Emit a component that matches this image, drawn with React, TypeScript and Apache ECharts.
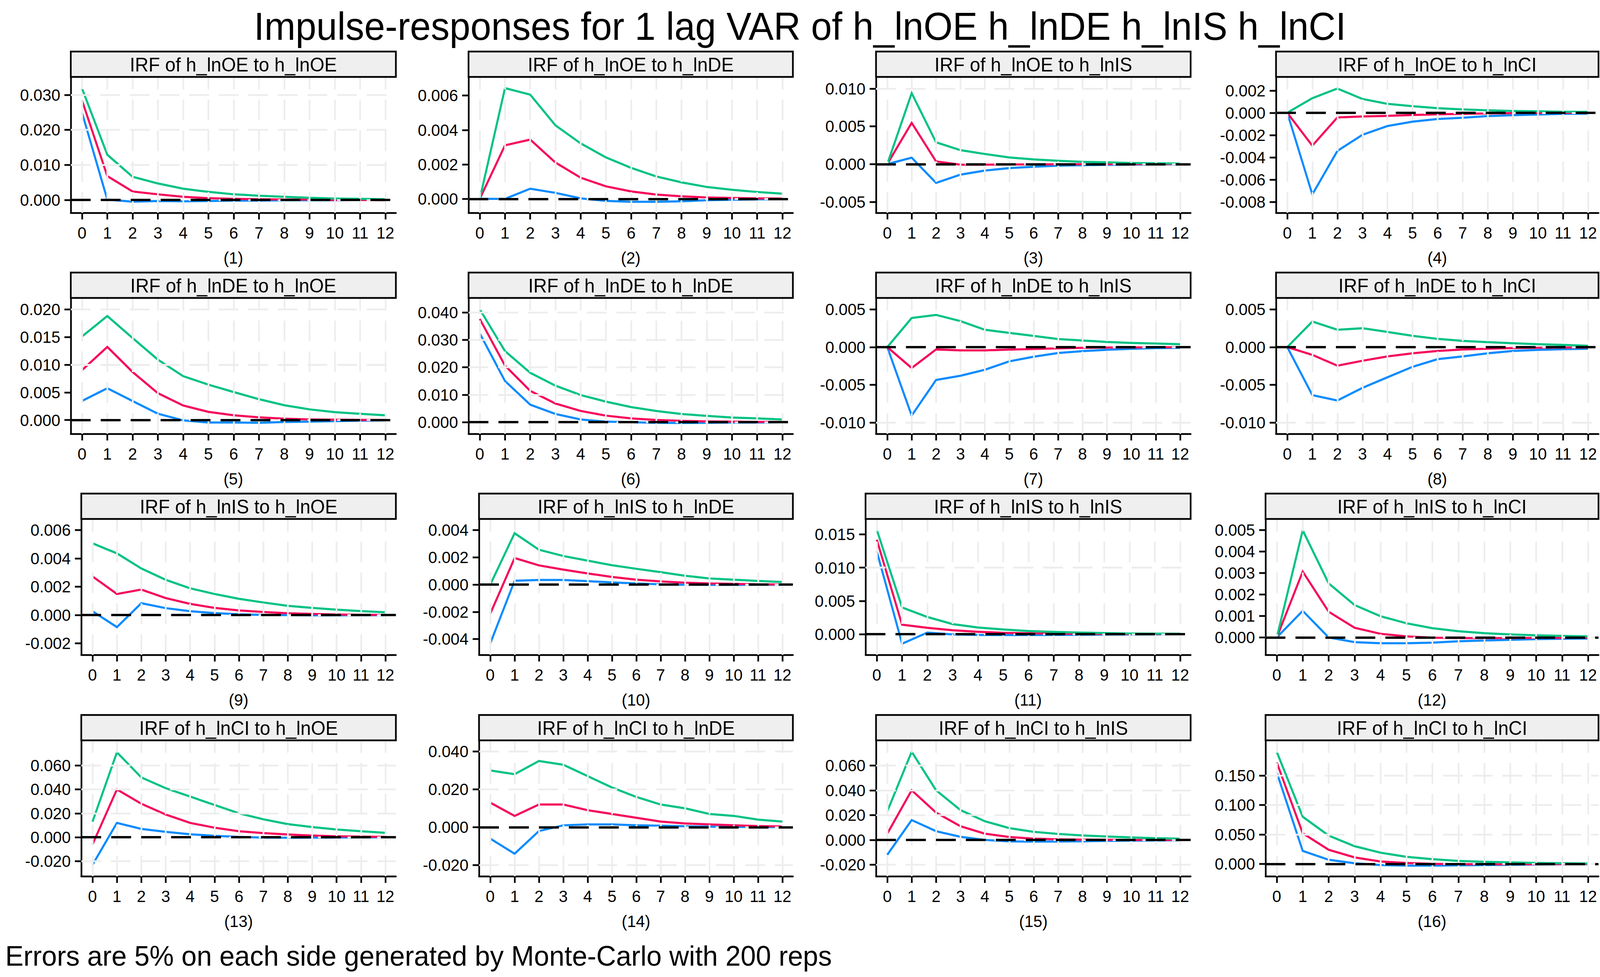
import React, { useEffect, useRef, useState } from "react";
import * as echarts from "echarts";

// ---------- data ----------
const steps = [0, 1, 2, 3, 4, 5, 6, 7, 8, 9, 10, 11, 12];

const mainTitle = "Impulse-responses for 1 lag VAR of h_lnOE h_lnDE h_lnIS h_lnCI";
const footNote = "Errors are 5% on each side generated by Monte-Carlo with 200 reps";

const panelTitles = [
  "IRF of h_lnOE to h_lnOE", "IRF of h_lnOE to h_lnDE", "IRF of h_lnOE to h_lnIS", "IRF of h_lnOE to h_lnCI",
  "IRF of h_lnDE to h_lnOE", "IRF of h_lnDE to h_lnDE", "IRF of h_lnDE to h_lnIS", "IRF of h_lnDE to h_lnCI",
  "IRF of h_lnIS to h_lnOE", "IRF of h_lnIS to h_lnDE", "IRF of h_lnIS to h_lnIS", "IRF of h_lnIS to h_lnCI",
  "IRF of h_lnCI to h_lnOE", "IRF of h_lnCI to h_lnDE", "IRF of h_lnCI to h_lnIS", "IRF of h_lnCI to h_lnCI",
];

// (1) OE -> OE
const p1Upper = [0.0318, 0.0129, 0.0066, 0.0047, 0.0032, 0.0023, 0.0016, 0.0012, 0.0009, 0.0006, 0.0004, 0.0003, 0.0002];
const p1Irf = [0.0284, 0.0068, 0.0024, 0.0016, 0.0009, 0.0005, 0.0003, 0.0002, 0.0001, 0.0001, 0.0, 0.0, -0.0001];
const p1Lower = [0.0249, 0.0001, -0.0005, -0.0003, -0.0004, -0.0003, -0.0002, -0.0002, -0.0001, -0.0001, -0.0001, 0.0, 0.0];
const p1Ticks = [0, 0.01, 0.02, 0.03];
const p1Range = [-0.00368, 0.0351];

// (2) OE -> DE
const p2Upper = [0, 0.00643, 0.00605, 0.00427, 0.00322, 0.00241, 0.0018, 0.0013, 0.00096, 0.00069, 0.00053, 0.0004, 0.0003];
const p2Irf = [0, 0.00311, 0.00344, 0.00211, 0.00123, 0.00073, 0.00043, 0.00025, 0.00015, 0.00008, 0.00005, 0.00003, 0.00002];
const p2Lower = [0, 0, 0.00059, 0.00035, 0.00003, -0.00012, -0.00017, -0.00017, -0.00014, -0.00008, -0.00005, -0.00003, -0.00002];
const p2Ticks = [0, 0.002, 0.004, 0.006];
const p2Range = [-0.00081, 0.00708];

// (3) OE -> IS
const p3Upper = [0, 0.0094, 0.00289, 0.00185, 0.00134, 0.00088, 0.00062, 0.00044, 0.0003, 0.00023, 0.00014, 0.0001, 0.00007];
const p3Irf = [0, 0.00547, 0.00035, -0.00007, -0.00007, -0.00005, -0.00004, -0.00002, -0.00001, 0, 0, 0, 0];
const p3Lower = [0, 0.00085, -0.00249, -0.00139, -0.00085, -0.00053, -0.00035, -0.00021, -0.00014, -0.00009, -0.00006, -0.00004, -0.00002];
const p3Ticks = [-0.005, 0, 0.005, 0.01];
const p3Range = [-0.00645, 0.01155];

// (4) OE -> CI
const p4Upper = [0, 0.00131, 0.00218, 0.00124, 0.0008, 0.00059, 0.00041, 0.0003, 0.00022, 0.00016, 0.00013, 0.00009, 0.00008];
const p4Irf = [0, -0.00296, -0.00042, -0.00033, -0.00028, -0.0002, -0.00014, -0.0001, -0.00006, -0.00003, -0.00002, -0.00001, 0];
const p4Lower = [0, -0.00734, -0.00343, -0.00198, -0.00119, -0.0008, -0.00056, -0.00045, -0.0003, -0.00022, -0.00016, -0.0001, -0.00008];
const p4Ticks = [-0.008, -0.006, -0.004, -0.002, 0, 0.002];
const p4Range = [-0.00899, 0.00322];

// (5) DE -> OE
const p5Upper = [0.01511, 0.0188, 0.01483, 0.01092, 0.00793, 0.0064, 0.00506, 0.00377, 0.00268, 0.00193, 0.00142, 0.00112, 0.00087];
const p5Irf = [0.00902, 0.01321, 0.00869, 0.00486, 0.00263, 0.00148, 0.00087, 0.0005, 0.00025, 0.00011, 0.00006, 0.00003, 0.00002];
const p5Lower = [0.00346, 0.00575, 0.00344, 0.00115, -0.00006, -0.00045, -0.00045, -0.0005, -0.00036, -0.00028, -0.0002, -0.00011, -0.00006];
const p5Ticks = [0, 0.005, 0.01, 0.015, 0.02];
const p5Range = [-0.00249, 0.02207];

// (6) DE -> DE
const p6Upper = [0.0411, 0.0259, 0.018, 0.0133, 0.0099, 0.0075, 0.0055, 0.0041, 0.003, 0.0023, 0.0017, 0.0014, 0.001];
const p6Irf = [0.0376, 0.0206, 0.0114, 0.0068, 0.0041, 0.0024, 0.0014, 0.0008, 0.0005, 0.0003, 0.0002, 0.0001, 0.0001];
const p6Lower = [0.0323, 0.015, 0.0064, 0.003, 0.001, 0.0002, 0, -0.0002, -0.0003, -0.0002, -0.0001, -0.0001, 0];
const p6Ticks = [0, 0.01, 0.02, 0.03, 0.04];
const p6Range = [-0.00423, 0.04524];

// (7) DE -> IS
const p7Upper = [0, 0.00386, 0.00427, 0.00345, 0.0023, 0.00189, 0.00148, 0.00107, 0.00088, 0.00068, 0.00055, 0.00047, 0.00039];
const p7Irf = [0, -0.00277, -0.00031, -0.00043, -0.00043, -0.00033, -0.00025, -0.00016, -0.0001, -0.00006, -0.00004, -0.00002, -0.00002];
const p7Lower = [0, -0.00908, -0.00435, -0.0038, -0.003, -0.00189, -0.00127, -0.00078, -0.00053, -0.00035, -0.00023, -0.00014, -0.0001];
const p7Ticks = [-0.01, -0.005, 0, 0.005];
const p7Range = [-0.0115, 0.00652];

// (8) DE -> CI
const p8Upper = [0, 0.00339, 0.0023, 0.0025, 0.00201, 0.0015, 0.00109, 0.00082, 0.00066, 0.00051, 0.00039, 0.00029, 0.00018];
const p8Irf = [0, -0.00103, -0.00246, -0.00181, -0.00123, -0.00082, -0.00051, -0.00031, -0.00021, -0.00012, -0.00008, -0.00006, -0.00006];
const p8Lower = [0, -0.00637, -0.00708, -0.0054, -0.004, -0.00261, -0.0016, -0.00123, -0.00082, -0.00051, -0.00037, -0.00027, -0.00021];
const p8Ticks = [-0.01, -0.005, 0, 0.005];
const p8Range = [-0.0115, 0.00652];

// (9) IS -> OE
const p9Upper = [0.00507, 0.00436, 0.00329, 0.00249, 0.00189, 0.00149, 0.00115, 0.00089, 0.00065, 0.00051, 0.00038, 0.00028, 0.0002];
const p9Irf = [0.00273, 0.00149, 0.0018, 0.0012, 0.00079, 0.00051, 0.00033, 0.00022, 0.00013, 0.00008, 0.00004, 0.00002, 0.00001];
const p9Lower = [0.00027, -0.00085, 0.00084, 0.00049, 0.00027, 0.00014, 0.00005, 0.00001, 0, -0.00002, -0.00002, -0.00001, -0.00001];
const p9Ticks = [-0.002, 0, 0.002, 0.004, 0.006];
const p9Range = [-0.00281, 0.00679];

// (10) IS -> DE
const p10Upper = [0, 0.00377, 0.00256, 0.0021, 0.00176, 0.00142, 0.00116, 0.00091, 0.00065, 0.00045, 0.00036, 0.00027, 0.00019];
const p10Irf = [-0.00214, 0.00195, 0.00141, 0.0011, 0.00082, 0.00056, 0.00036, 0.00023, 0.00014, 0.00008, 0.00005, 0.00002, 0.00001];
const p10Lower = [-0.00432, 0.00028, 0.00034, 0.00034, 0.00025, 0.00016, 0.00008, 0.00002, -0.00001, -0.00002, -0.00002, -0.00001, -0.00001];
const p10Ticks = [-0.004, -0.002, 0, 0.002, 0.004];
const p10Range = [-0.00516, 0.00482];

// (11) IS -> IS
const p11Upper = [0.0157, 0.00402, 0.00258, 0.00151, 0.001, 0.0007, 0.00047, 0.00033, 0.00023, 0.00016, 0.00009, 0.00007, 0.00005];
const p11Irf = [0.01421, 0.00142, 0.00095, 0.00058, 0.00035, 0.00019, 0.00012, 0.00007, 0.00005, 0.00003, 0.00002, 0.00001, 0.00001];
const p11Lower = [0.01247, -0.00144, 0.00023, -0.00005, -0.00012, -0.00014, -0.00014, -0.00012, -0.00009, -0.00007, -0.00005, -0.00003, -0.00002];
const p11Ticks = [0, 0.005, 0.01, 0.015];
const p11Range = [-0.00312, 0.01733];

// (12) IS -> CI
const p12Upper = [0, 0.00499, 0.00252, 0.00151, 0.00099, 0.00066, 0.00043, 0.00029, 0.0002, 0.00014, 0.0001, 0.00007, 0.00005];
const p12Irf = [0, 0.00307, 0.0012, 0.00045, 0.00017, 0.00005, -0.00001, -0.00003, -0.00003, -0.00003, -0.00002, -0.00002, -0.00001];
const p12Lower = [0, 0.00124, 0, -0.00022, -0.00027, -0.00027, -0.00024, -0.00018, -0.00014, -0.00011, -0.00008, -0.00006, -0.00005];
const p12Ticks = [0, 0.001, 0.002, 0.003, 0.004, 0.005];
const p12Range = [-0.00081, 0.00552];

// (13) CI -> OE
const p13Upper = [0.013, 0.071, 0.05, 0.041, 0.034, 0.027, 0.02, 0.015, 0.011, 0.0085, 0.0065, 0.005, 0.0037];
const p13Irf = [-0.006, 0.04, 0.028, 0.019, 0.012, 0.008, 0.005, 0.0035, 0.0023, 0.0014, 0.0008, 0.0005, 0.0003];
const p13Lower = [-0.023, 0.012, 0.007, 0.0045, 0.0025, 0.0012, 0.0003, -0.0003, -0.0004, -0.0003, -0.0002, -0.0001, 0];
const p13Ticks = [-0.02, 0, 0.02, 0.04, 0.06];
const p13Range = [-0.0326, 0.081];

// (14) CI -> DE
const p14Upper = [0.03, 0.028, 0.035, 0.033, 0.027, 0.021, 0.016, 0.012, 0.01, 0.007, 0.006, 0.004, 0.003];
const p14Irf = [0.013, 0.006, 0.012, 0.012, 0.009, 0.007, 0.005, 0.003, 0.002, 0.0015, 0.001, 0.0006, 0.0004];
const p14Lower = [-0.006, -0.014, -0.002, 0.001, 0.0015, 0.0015, 0.001, 0.0008, 0.0005, 0.0003, 0.0002, 0.0001, 0.0001];
const p14Ticks = [-0.02, 0, 0.02, 0.04];
const p14Range = [-0.0259, 0.0459];

// (15) CI -> IS
const p15Upper = [0.023, 0.071, 0.04, 0.024, 0.015, 0.0095, 0.0065, 0.0048, 0.0036, 0.0027, 0.002, 0.0014, 0.001];
const p15Irf = [0.005, 0.04, 0.022, 0.011, 0.005, 0.0023, 0.001, 0.0004, 0.0002, 0.0001, 0, 0, 0];
const p15Lower = [-0.012, 0.016, 0.007, 0.0025, 0, -0.0012, -0.0014, -0.0013, -0.0011, -0.0008, -0.0006, -0.0004, -0.0003];
const p15Ticks = [-0.02, 0, 0.02, 0.04, 0.06];
const p15Range = [-0.0293, 0.0802];

// (16) CI -> CI
const p16Upper = [0.19, 0.08, 0.048, 0.03, 0.019, 0.012, 0.008, 0.005, 0.0035, 0.0025, 0.0015, 0.001, 0.0007];
const p16Irf = [0.172, 0.052, 0.024, 0.011, 0.004, 0.0015, 0, -0.0005, -0.0007, -0.0006, -0.0005, -0.0003, -0.0002];
const p16Lower = [0.155, 0.022, 0.007, 0.001, -0.002, -0.003, -0.003, -0.0025, -0.002, -0.0015, -0.001, -0.0007, -0.0005];
const p16Ticks = [0, 0.05, 0.1, 0.15];
const p16Range = [-0.021, 0.2096];

const uppers = [p1Upper, p2Upper, p3Upper, p4Upper, p5Upper, p6Upper, p7Upper, p8Upper, p9Upper, p10Upper, p11Upper, p12Upper, p13Upper, p14Upper, p15Upper, p16Upper];
const irfs = [p1Irf, p2Irf, p3Irf, p4Irf, p5Irf, p6Irf, p7Irf, p8Irf, p9Irf, p10Irf, p11Irf, p12Irf, p13Irf, p14Irf, p15Irf, p16Irf];
const lowers = [p1Lower, p2Lower, p3Lower, p4Lower, p5Lower, p6Lower, p7Lower, p8Lower, p9Lower, p10Lower, p11Lower, p12Lower, p13Lower, p14Lower, p15Lower, p16Lower];
const yTicks = [p1Ticks, p2Ticks, p3Ticks, p4Ticks, p5Ticks, p6Ticks, p7Ticks, p8Ticks, p9Ticks, p10Ticks, p11Ticks, p12Ticks, p13Ticks, p14Ticks, p15Ticks, p16Ticks];
const yRanges = [p1Range, p2Range, p3Range, p4Range, p5Range, p6Range, p7Range, p8Range, p9Range, p10Range, p11Range, p12Range, p13Range, p14Range, p15Range, p16Range];

// ---------- layout & style ----------
const W = 4272;
const H = 2502;
const FONT = "'Liberation Sans', Arial, Helvetica, sans-serif";
const rowTops = [132, 698, 1264, 1831];
const plotLefts = [189, 1251, 2339, 3407, 189, 1251, 2339, 3407, 217, 1279, 2311, 3379, 217, 1279, 2339, 3379];
const colRights = [1057, 2117, 3179, 4268];
const HEADER_H = 65;
const PLOT_BOTTOM = 413;
const PAREN_Y = 528;
const PAD_LEFT = 30;
const PAD_RIGHT = 28;
const COLOR_UPPER = "#00C284";
const COLOR_IRF = "#F5095B";
const COLOR_LOWER = "#0B8BFF";
const GRID_COLOR = "#EDEDED";

function fmt(v: number): string {
  const s = v.toFixed(3);
  return s === "-0.000" ? "0.000" : s;
}

function buildOption() {
  const grids: any[] = [];
  const xAxes: any[] = [];
  const yAxes: any[] = [];
  const series: any[] = [];
  const graphics: any[] = [];

  graphics.push({
    type: "text",
    x: W / 2,
    y: 67,
    style: { text: mainTitle, fontSize: 100, fontFamily: FONT, fill: "#000", textAlign: "center", textVerticalAlign: "middle" },
  });
  graphics.push({
    type: "text",
    x: 14,
    y: 2447,
    style: { text: footNote, fontSize: 73, fontFamily: FONT, fill: "#000", textAlign: "left", textVerticalAlign: "middle" },
  });

  for (let i = 0; i < 16; i++) {
    const row = Math.floor(i / 4);
    const col = i % 4;
    const top = rowTops[row];
    const left = plotLefts[i];
    const right = colRights[col];
    const plotTop = top + HEADER_H;
    const plotBottom = top + PLOT_BOTTOM;
    const width = right - left;
    const unit = (width - PAD_LEFT - PAD_RIGHT) / 12;

    grids.push({ left, top: plotTop, width, height: plotBottom - plotTop, containLabel: false });

    xAxes.push({
      type: "value",
      gridIndex: i,
      min: -PAD_LEFT / unit,
      max: 12 + PAD_RIGHT / unit,
      axisLine: { show: true, onZero: false, lineStyle: { color: "#000", width: 4.5 } },
      axisTick: { show: true, customValues: steps, length: 17, lineStyle: { color: "#000", width: 4.5 } },
      axisLabel: {
        show: true,
        customValues: steps,
        fontSize: 43,
        fontFamily: FONT,
        color: "#000",
        margin: 30,
        formatter: (v: number) => String(Math.round(v)),
      },
      splitLine: { show: false },
    });

    yAxes.push({
      type: "value",
      gridIndex: i,
      min: yRanges[i][0],
      max: yRanges[i][1],
      axisLine: { show: true, onZero: false, lineStyle: { color: "#000", width: 4.5 } },
      axisTick: { show: true, customValues: yTicks[i], length: 17, lineStyle: { color: "#000", width: 4.5 } },
      axisLabel: {
        show: true,
        customValues: yTicks[i],
        fontSize: 43,
        fontFamily: FONT,
        color: "#000",
        margin: 28,
        formatter: (v: number) => fmt(v),
      },
      splitLine: { show: false },
    });

    // grid lines (at tick positions)
    series.push({
      type: "line",
      xAxisIndex: i,
      yAxisIndex: i,
      data: [],
      silent: true,
      z: 1,
      markLine: {
        silent: true,
        symbol: ["none", "none"],
        label: { show: false },
        emphasis: { disabled: true },
        lineStyle: { color: GRID_COLOR, width: 4.5, type: [53, 26] },
        data: [
          ...yTicks[i].map((v) => ({ yAxis: v })),
          ...steps.map((s) => ({ xAxis: s })),
        ],
      },
    });
    // zero line
    series.push({
      type: "line",
      xAxisIndex: i,
      yAxisIndex: i,
      data: [],
      silent: true,
      z: 2,
      markLine: {
        silent: true,
        symbol: ["none", "none"],
        label: { show: false },
        emphasis: { disabled: true },
        lineStyle: { color: "#000", width: 6, type: [53, 27] },
        data: [{ yAxis: 0 }],
      },
    });

    const mk = (vals: number[], color: string, name: string) => ({
      type: "line",
      name,
      xAxisIndex: i,
      yAxisIndex: i,
      data: vals.map((v, k) => [steps[k], v]),
      showSymbol: false,
      symbol: "none",
      silent: true,
      z: 3,
      lineStyle: { color, width: 5.5, cap: "butt", join: "miter" },
    });
    series.push(mk(lowers[i], COLOR_LOWER, "lower"));
    series.push(mk(irfs[i], COLOR_IRF, "irf"));
    series.push(mk(uppers[i], COLOR_UPPER, "upper"));

    // header strip
    graphics.push({
      type: "rect",
      shape: { x: left, y: top, width, height: HEADER_H },
      style: { fill: "#EFEFEF", stroke: "#000", lineWidth: 4.5 },
      z: 10,
    });
    graphics.push({
      type: "text",
      x: left + width / 2,
      y: top + HEADER_H / 2 + 1,
      style: { text: panelTitles[i], fontSize: 50, fontFamily: FONT, fill: "#000", textAlign: "center", textVerticalAlign: "middle" },
      z: 11,
    });
    graphics.push({
      type: "text",
      x: left + width / 2,
      y: top + PAREN_Y,
      style: { text: "(" + (i + 1) + ")", fontSize: 43, fontFamily: FONT, fill: "#000", textAlign: "center", textVerticalAlign: "middle" },
      z: 11,
    });
  }

  return {
    animation: false,
    backgroundColor: "#fff",
    grid: grids,
    xAxis: xAxes,
    yAxis: yAxes,
    series,
    graphic: graphics,
  };
}

function viewport() {
  const de = document.documentElement;
  return {
    w: de.clientWidth || window.innerWidth || W,
    h: de.clientHeight || window.innerHeight || H,
  };
}

export default function App() {
  const ref = useRef<HTMLDivElement>(null);
  const [vp, setVp] = useState(viewport());

  useEffect(() => {
    document.body.style.margin = "0";
    document.body.style.overflow = "hidden";
    document.documentElement.style.overflow = "hidden";
    const onResize = () => setVp(viewport());
    onResize();
    window.addEventListener("resize", onResize);
    return () => window.removeEventListener("resize", onResize);
  }, []);

  useEffect(() => {
    if (!ref.current) return;
    const chart = echarts.init(ref.current, null, { renderer: "svg", width: W, height: H });
    chart.setOption(buildOption() as any);
    return () => chart.dispose();
  }, []);

  const sx = vp.w / W;
  const sy = vp.h / H;

  return (
    <div
      style={{ position: "fixed", left: 0, top: 0, width: vp.w, height: vp.h, overflow: "hidden", background: "#fff" }}
    >
      <div
        ref={ref}
        style={{
          position: "absolute",
          left: 0,
          top: 0,
          width: W,
          height: H,
          background: "#fff",
          transform: `scale(${sx}, ${sy})`,
          transformOrigin: "0 0",
        }}
      />
    </div>
  );
}
